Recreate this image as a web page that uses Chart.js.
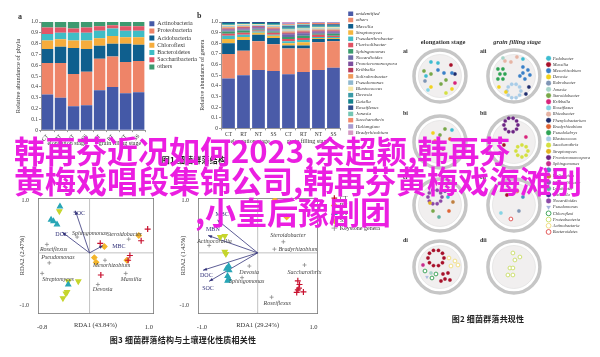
<!DOCTYPE html>
<html><head><meta charset="utf-8">
<script src="https://cdn.jsdelivr.net/npm/chart.js@4.4.1/dist/chart.umd.min.js"></script>
<style>
html,body{margin:0;padding:0;background:#fff;}
body{width:600px;height:357px;position:relative;overflow:hidden;}
canvas{position:absolute;}
.t{position:absolute;white-space:nowrap;line-height:1;color:#333;font-family:"Liberation Serif",serif;}
.ctr{transform:translateX(-50%);}
.cap{position:absolute;white-space:nowrap;line-height:1;font-family:"Noto Sans CJK SC",sans-serif;font-weight:700;font-size:8px;color:#222;transform:translateX(-50%);letter-spacing:0.2px;}
.big{position:absolute;white-space:nowrap;font-family:"Noto Sans CJK SC",sans-serif;font-weight:700;font-size:31px;line-height:31px;color:#eb1ee1;z-index:10;}
</style></head><body>
<canvas id="cA" width="207" height="155" style="left:0;top:0"></canvas>
<canvas id="cB" width="212" height="155" style="left:195px;top:0"></canvas>
<canvas id="cN" width="205" height="262" style="left:395px;top:45px"></canvas>
<canvas id="cL" width="165" height="155" style="left:0;top:180px"></canvas>
<canvas id="cM" width="215" height="155" style="left:175px;top:180px"></canvas>

<div class="t" style="left:18px;top:13px;font-size:8px;font-weight:700">a</div>
<div class="t" style="left:197px;top:12px;font-size:8px;font-weight:700">b</div>
<div class="t ctr" style="left:67px;top:140px;font-size:6px">elongation stage</div>
<div class="t ctr" style="left:120px;top:140px;font-size:6px">grain filling stage</div>
<div class="t ctr" style="left:250px;top:138px;font-size:6px">elongation stage</div>
<div class="t ctr" style="left:308px;top:138px;font-size:6px">grain filling stage</div>
<div class="cap" style="left:194px;top:156px">图1 细菌群落结构</div>

<div class="t ctr" style="left:443px;top:39px;font-size:6.5px;font-weight:700">elongation stage</div>
<div class="t ctr" style="left:517px;top:39px;font-size:6.5px;font-weight:700;font-style:italic">grain filling stage</div>
<div class="t" style="left:403px;top:48px;font-size:6px;font-weight:700">ai</div>
<div class="t" style="left:480px;top:48px;font-size:6px;font-weight:700">aii</div>
<div class="t" style="left:403px;top:110px;font-size:6px;font-weight:700">bi</div>
<div class="t" style="left:480px;top:110px;font-size:6px;font-weight:700">bii</div>
<div class="t" style="left:403px;top:174px;font-size:6px;font-weight:700">ci</div>
<div class="t" style="left:480px;top:174px;font-size:6px;font-weight:700">cii</div>
<div class="t" style="left:403px;top:237px;font-size:6px;font-weight:700">di</div>
<div class="t" style="left:480px;top:237px;font-size:6px;font-weight:700">dii</div>
<div class="cap" style="left:488px;top:315px">图2 细菌群落共现性</div>
<div class="cap" style="left:183px;top:336px">图3 细菌群落结构与土壤理化性质相关性</div>

<div class="big" style="left:14px;top:134px">韩再芬近况如何2023,余超颖,韩再芬</div>
<div class="big" style="left:14px;top:164px">黄梅戏唱段集锦公司,韩再芬黄梅戏海滩别</div>
<div class="big" style="left:195px;top:195px">,小皇后豫剧团</div>

<script>
// ---------------- DATA ----------------
const stageLabels = ['CT','RT','NT','SS','CT','RT','NT','SS'];

const phylumNames = ['Actinobacteria','Proteobacteria','Acidobacteria','Chloroflexi','Bacteroidetes','Saccharibacteria','others'];
const actinobacteria   = [0.33,0.30,0.22,0.23,0.37,0.40,0.34,0.35];
const proteobacteria   = [0.29,0.32,0.30,0.31,0.29,0.28,0.29,0.29];
const acidobacteria    = [0.13,0.15,0.24,0.21,0.12,0.12,0.17,0.15];
const chloroflexi      = [0.08,0.07,0.07,0.08,0.07,0.07,0.06,0.07];
const bacteroidetes    = [0.06,0.06,0.07,0.07,0.07,0.07,0.06,0.06];
const saccharibacteria = [0.06,0.05,0.04,0.05,0.04,0.03,0.04,0.04];
const otherPhyla       = [0.05,0.05,0.06,0.05,0.04,0.03,0.04,0.04];

const genusNames = ['unidentified','others','Massilia','Streptomyces','Pseudarthrobacter','Flavisolibacter','Sphingomonas','Nocardioides','Promicromonospora','Kribbella','Solirubrobacter','Pseudomonas','Blastococcus','Devosia','Gaiella','Roseiflexus','Jonesia','Saccharothrix','Haliangium','Bradyrhizobium'];
const gUnidentified      = [0.47,0.50,0.55,0.54,0.51,0.53,0.55,0.57];
const gOthers            = [0.23,0.23,0.27,0.25,0.24,0.22,0.26,0.25];
const gMassilia          = [0.10,0.10,0.06,0.06,0.03,0.03,0.03,0.02];
const gStreptomyces      = [0.04,0.03,0.02,0.02,0.02,0.03,0.01,0.01];
const gPseudarthrobacter = [0.03,0.02,0.01,0.01,0.02,0.02,0.01,0.01];
const gFlavisolibacter   = [0.02,0.02,0.01,0.02,0.02,0.02,0.02,0.01];
const gSphingomonas      = [0.02,0.02,0.01,0.01,0.02,0.02,0.01,0.02];
const gNocardioides      = [0.01,0.01,0.01,0.01,0.02,0.02,0.01,0.01];
const gPromicromonospora = [0.01,0.01,0.01,0.01,0.01,0.01,0.01,0.01];
const gKribbella         = [0.01,0.01,0.01,0.01,0.01,0.01,0.01,0.01];
const gSolirubrobacter   = [0.01,0.01,0.00,0.01,0.01,0.01,0.01,0.01];
const gPseudomonas       = [0.01,0.01,0.01,0.01,0.01,0.01,0.01,0.01];
const gBlastococcus      = [0.01,0.01,0.01,0.01,0.01,0.01,0.01,0.01];
const gDevosia           = [0.01,0.01,0.00,0.01,0.01,0.01,0.01,0.01];
const gGaiella           = [0.01,0.00,0.01,0.01,0.01,0.01,0.01,0.01];
const gRoseiflexus       = [0.01,0.01,0.01,0.01,0.01,0.01,0.01,0.01];
const gJonesia           = [0.00,0.00,0.00,0.00,0.01,0.01,0.00,0.00];
const gSaccharothrix     = [0.00,0.00,0.00,0.00,0.01,0.01,0.01,0.01];
const gHaliangium        = [0.00,0.00,0.00,0.00,0.01,0.01,0.01,0.01];
const gBradyrhizobium    = [0.00,0.00,0.00,0.00,0.01,0.00,0.00,0.00];

// co-occurrence network layout (node positions in layout units)
const netRings = [[45,31],[119,31],[45,97],[119,97],[45,160],[119,160],[45,222],[119,222]];
const nPedobacter = [[36,17],[43,18],[31,31],[128,14],[57,85],[53,152]];
const nMassilia = [[56,20],[106,95],[109,100],[112,150],[49,213],[47.5,217.7],[43.5,220.6],[38.5,220.6],[34.5,217.7],[33,213],[34.5,208.3],[38.5,205.4],[43.5,205.4],[47.5,208.3],[48,229],[53,228],[50,234],[55,235],[46,236]];
const nMesorhizobium = [[43,25],[49,28],[57,28],[128,22],[133,25],[128,28],[135,30],[130,34],[125,31]];
const nDevosia = [[57,44],[36,42],[104,42],[111,47],[38,88]];
const nRubrobacter = [[30,36],[124,166]];
const nJonesia = [[108,13],[36,228]];
const nSteroidobacter = [[29,26],[36,29],[46,39],[51,35],[50,84],[45,90],[38,166]];
const nKribbella = [[60,38],[131,92]];
const nRoseiflexus = [[33,45],[106,168]];
const nRhizobacter = [[116,17],[122,12],[110,16]];
const nPhenylobacterium = [[134,42],[131,49],[60,29]];
const nBradyrhizobium = [[55,94],[54,166]];
const nPseudolabrys = [[103,24],[108,24],[105,29],[110,29],[103,34],[108,34]];
const nBlastococcus = [[126,46],[124.7,50.1],[121.2,52.7],[116.8,52.7],[113.3,50.1],[112,46],[113.3,41.9],[116.8,39.3],[121.2,39.3],[124.7,41.9]];
const nSaccharothrix = [[133,106],[131.2,110.2],[127,112],[122.8,110.2],[121,106],[122.8,101.8],[127,100],[131.2,101.8],[51,48]];
const nStreptomyces = [[40,96],[35,158]];
const nPromicromonospora = [[123,80],[121.7,84.1],[118.2,86.7],[113.8,86.7],[110.3,84.1],[109,80],[110.3,75.9],[113.8,73.3],[118.2,73.3],[121.7,75.9]];
const nSphingomonas = [[48,104],[28,220]];
const nGaiella = [[128,152]];
const nHaliangium = [[58,157]];
const nFlavisolibacter = [[105,108]];
const nLysobacter = [[44,172]];
const nIdeonella = [[50,146]];
const nNocardioides = [[47,152],[45.7,156.1],[42.2,158.7],[37.8,158.7],[34.3,156.1],[33,152],[34.3,147.9],[37.8,145.3],[42.2,145.3],[45.7,147.9]];
const nPseudomonas = [[34,100],[32,232]];
const nChloroflexi = [[30,226],[37,233],[41,229]];
const nProteobacteria = [[118,208],[125,212],[120,215],[115,223],[118,223],[113,230],[118,230]];
const nActinobacteria = [[54,213],[60,216],[56,221],[63,220]];
const nBacteroidetes = [[116,174],[122,146]];
const netNames = ['Pedobacter','Massilia','Mesorhizobium','Devosia','Rubrobacter','Jonesia','Steroidobacter','Kribbella','Roseiflexus','Rhizobacter','Phenylobacterium','Bradyrhizobium','Pseudolabrys','Blastococcus','Saccharothrix','Streptomyces','Promicromonospora','Sphingomonas','Gaiella','Haliangium','Flavisolibacter','Lysobacter','Ideonella','Nocardioides','Pseudomonas','Chloroflexi','Proteobacteria','Actinobacteria','Bacteroidetes'];
const netNodes = [nPedobacter,nMassilia,nMesorhizobium,nDevosia,nRubrobacter,nJonesia,nSteroidobacter,nKribbella,nRoseiflexus,nRhizobacter,nPhenylobacterium,nBradyrhizobium,nPseudolabrys,nBlastococcus,nSaccharothrix,nStreptomyces,nPromicromonospora,nSphingomonas,nGaiella,nHaliangium,nFlavisolibacter,nLysobacter,nIdeonella,nNocardioides,nPseudomonas,nChloroflexi,nProteobacteria,nActinobacteria,nBacteroidetes];

// RDA
const rdaTicksXL = [-0.8, 1.0];
const rdaTicksY = [-1.0, 1.0];
const rdaTicksXM = [-1.0, 1.0];
const rdaL_CT = [[0.18,0.18],[0.68,-0.05],[0.65,-0.14],[0.19,-0.42],[0.87,0.23],[0.98,0.45]];
const rdaL_RT = [[0.83,0.33],[0.25,0.12],[0.08,-0.09],[0.11,-0.18],[0.63,-0.14]];
const rdaL_NT = [[-0.36,-0.60],[-0.50,0.88],[-0.65,0.63],[-0.61,0.60],[-0.55,0.54]];
const rdaL_SS = [[-0.36,-0.54],[-0.19,-0.54],[-0.38,-0.74],[-0.40,-0.77],[-0.45,-0.86],[-0.51,0.79]];
const rdaL_genera = ['Sphingomonas','Steroidobacter','Roseiflexus','Pseudomonas','Mesorhizobium','Streptomyces','Massilia','Devosia'];
const rdaL_generaXY = [[-0.21,0.30],[0.66,0.26],[-0.72,0.16],[-0.68,-0.19],[0.26,-0.14],[-0.80,-0.39],[0.61,-0.39],[0.14,-0.60]];
const rdaL_env = ['SOC','DOC','MBC'];
const rdaL_envXY = [[-0.24,0.80],[-0.46,0.39],[0.23,0.14]];
const rdaM_CT = [[0.72,-0.53],[0.75,-0.60],[0.72,-0.70],[0.70,-0.75],[0.82,-0.74],[0.74,-0.67]];
const rdaM_RT = [[0.31,1.0],[0.52,0.68]];
const rdaM_NT = [[-0.52,-0.25],[-0.51,-0.33],[-0.54,-0.44],[-0.54,-0.53],[-0.52,-0.49],[-0.56,-0.30]];
const rdaM_SS = [[-0.59,0.02],[-0.57,-0.02],[-0.67,0.30],[-0.59,0.32]];
const rdaM_genera = ['Actinocorallia','Steroidobacter','Bradyrhizobium','Devosia','Sphingomonas','Saccharothrix','Roseiflexus'];
const rdaM_generaXY = [[-0.87,0.14],[0.46,0.21],[0.30,0.07],[-0.15,-0.25],[-0.28,-0.47],[0.84,-0.23],[0.25,-0.84]];
const rdaM_env = ['DOC','SOC','MBN','MBC'];
const rdaM_envXY = [[-0.98,-0.33],[-0.87,-0.54],[-0.89,0.33],[-0.72,0.62]];

// ---------------- STYLE ----------------
Chart.defaults.font.family = '"Liberation Serif", serif';
Chart.defaults.color = '#333';
Chart.defaults.animation = false;
const phylumColors = ['#4459a7','#ee8468','#0f5f8e','#f6ac3c','#3fbdc6','#e35567','#3d9a70'];
const genusColors = ['#4a5ba8','#ef8a6c','#0d5d8c','#f4b63f','#42bcc6','#e05263','#3a9c6e','#6b6aa8','#7d4f9e','#b83a5c','#f09a5a','#8fb8cf','#f6e7a6','#3a9aa6','#12828c','#2e4c8c','#74c6b4','#f3896a','#a89ad0','#d59ac4'];
const netColors = ['#3cbcd0','#a8102a','#3a80c8','#f2d21e','#7f95b5','#a6d4c8','#78a848','#d8247c','#84d4e4','#e6b4a4','#1e2c6c','#e06434','#2ea454','#a8cce8','#d4e040','#e2b41e','#6c2484','#c82c8c','#4c8cc0','#c08040','#8c5cb4','#60b0a0','#4c2c9c','#8c48a8','#a4b4dc','#2e9c4c','#c8dc64','#f0dc78','#e04848'];
const netHollow = ['Chloroflexi','Proteobacteria','Actinobacteria','Bacteroidetes'];
const sampleStyles = {
  CT:{color:'#c8102e', style:'cross', rot:0, r:3},
  RT:{color:'#f3b52c', style:'rectRot', rot:0, r:2.6},
  NT:{color:'#28a6b6', style:'triangle', rot:0, r:2.8},
  SS:{color:'#c6d52c', style:'triangle', rot:180, r:2.8}
};
const envColor = '#33337a';
const labelOffsL = [[-5,-4],[-22,-5],[-7,5],[-8,-5],[-12,5],[0,6],[-5,6],[-5,5]];
const envOffsL = [[-2,3],[-7,2],[9,1]];
const labelOffsM = [[-12,-4],[-13,-6],[4,0],[-10,6],[-13,4],[-17,7],[-8,6]];
const envOffsM = [[-3,5],[-7,7],[-2,-6],[-2,-6]];

const toXY = a => a.map(p => ({x:p[0], y:p[1]}));

const annotatePlugin = {
  id:'annotate',
  afterDatasetsDraw(chart){
    const ctx = chart.ctx;
    chart.data.datasets.forEach((ds,i) => {
      const pts = chart.getDatasetMeta(i).data;
      if (ds.arrowHead && pts.length > 1){
        const a = pts[pts.length-2], b = pts[pts.length-1];
        const ang = Math.atan2(b.y-a.y, b.x-a.x);
        ctx.save(); ctx.translate(b.x,b.y); ctx.rotate(ang);
        ctx.beginPath(); ctx.moveTo(0,0); ctx.lineTo(-4,-1.5); ctx.lineTo(-4,1.5); ctx.closePath();
        ctx.fillStyle = ds.borderColor; ctx.fill(); ctx.restore();
      }
      if (ds.pointLabels){
        ctx.save();
        ctx.font = ds.pointLabelFont; ctx.fillStyle = ds.pointLabelColor;
        ctx.textBaseline = 'middle'; ctx.textAlign = 'left';
        pts.forEach((p,j) => { const t = ds.pointLabels[j]; if(!t) return; const o = ds.pointLabelOffsets[j]; ctx.fillText(t, p.x+o[0], p.y+o[1]); });
        ctx.restore();
      }
    });
  }
};

const spacer = (pos, size, vertical) => ({
  type:'linear', position:pos, display:true, grid:{display:false}, ticks:{display:false}, border:{display:false},
  afterFit: s => { if (vertical) s.width = size; else s.height = size; }
});

// ---------------- CHART A ----------------
const phylaData = [actinobacteria,proteobacteria,acidobacteria,chloroflexi,bacteroidetes,saccharibacteria,otherPhyla];
new Chart(document.getElementById('cA'), {
  type:'bar',
  data:{labels:stageLabels, datasets: phylumNames.map((n,i) => ({label:n, data:phylaData[i], xAxisID:'x', yAxisID:'y', backgroundColor:phylumColors[i], borderWidth:0, categoryPercentage:0.88, barPercentage:1}))},
  options:{
    responsive:false, devicePixelRatio:1,
    layout:{padding:{top:19.5, left:14, right:0, bottom:0}},
    plugins:{tooltip:{enabled:false}, legend:{position:'right', align:'start', maxWidth:70, labels:{boxWidth:5, boxHeight:5, padding:1.2, font:{size:6}}}},
    scales:{
      x:{stacked:true, border:{color:'#999'}, grid:{drawOnChartArea:false, tickLength:2, color:'#999'}, ticks:{font:{size:5.5}, padding:1}},
      xs:spacer('bottom', 11, false),
      xt:spacer('top', 2.5, false),
      ys:spacer('right', 3, true),
      y:{stacked:true, min:0, max:1, border:{color:'#999'}, grid:{drawOnChartArea:false, tickLength:2, color:'#999'},
         ticks:{stepSize:0.1, font:{size:5.5}, padding:1}, afterFit: s => { s.width = 27; },
         title:{display:true, text:'Relative abundance of phyla', font:{size:6.5}, padding:0}}
    }
  }
});

// ---------------- CHART B ----------------
const genusData = [gUnidentified,gOthers,gMassilia,gStreptomyces,gPseudarthrobacter,gFlavisolibacter,gSphingomonas,gNocardioides,gPromicromonospora,gKribbella,gSolirubrobacter,gPseudomonas,gBlastococcus,gDevosia,gGaiella,gRoseiflexus,gJonesia,gSaccharothrix,gHaliangium,gBradyrhizobium];
new Chart(document.getElementById('cB'), {
  type:'bar',
  data:{labels:stageLabels, datasets: genusNames.map((n,i) => ({label:n, data:genusData[i], xAxisID:'x', yAxisID:'y', backgroundColor:genusColors[i], borderWidth:0, categoryPercentage:0.85, barPercentage:1}))},
  options:{
    responsive:false, devicePixelRatio:1,
    layout:{padding:{top:10, left:4, right:0, bottom:0}},
    plugins:{tooltip:{enabled:false}, legend:{position:'right', align:'start', maxWidth:70, labels:{boxWidth:5, boxHeight:4.5, padding:1.26, font:{size:5, style:'italic'}}}},
    scales:{
      x:{stacked:true, border:{color:'#999'}, grid:{drawOnChartArea:false, tickLength:2, color:'#999'}, ticks:{font:{size:5.5}, padding:1}},
      xs:spacer('bottom', 16, false),
      xt:spacer('top', 12, false),
      ys:spacer('right', 6, true),
      y:{stacked:true, min:0, max:1, border:{color:'#999'}, grid:{drawOnChartArea:false, tickLength:2, color:'#999'},
         ticks:{stepSize:0.1, font:{size:5.5}, padding:1}, afterFit: s => { s.width = 22; },
         title:{display:true, text:'Relative abundance of genera', font:{size:6}, padding:0}}
    }
  }
});

// ---------------- NETWORK ----------------
const netDatasets = [
  {label:'ring', noLegend:true, data:toXY(netRings), pointRadius:26, pointBorderWidth:3.5, pointBorderColor:'#c6c6c6', pointBackgroundColor:'rgba(255,255,255,0)', order:10, clip:false},
  {label:'disc', noLegend:true, data:toXY(netRings), pointRadius:21.5, pointBorderWidth:0.6, pointBorderColor:'#dedede', pointBackgroundColor:'#f1efef', order:9, clip:false}
];
netNames.forEach((n,i) => {
  const hollow = netHollow.includes(n);
  netDatasets.push({
    label:n, data:toXY(netNodes[i]), order:0, clip:false,
    pointStyle: n === 'Pseudomonas' ? 'triangle' : 'circle', rotation: n === 'Pseudomonas' ? 180 : 0,
    pointRadius: hollow ? 1.9 : 1.7, pointBorderWidth: hollow ? 0.9 : 0.3,
    backgroundColor: hollow ? '#ffffff' : netColors[i], borderColor: netColors[i]
  });
});
new Chart(document.getElementById('cN'), {
  type:'scatter',
  data:{datasets:netDatasets},
  options:{
    responsive:false, devicePixelRatio:1,
    layout:{padding:0, autoPadding:false},
    plugins:{tooltip:{enabled:false},
      legend:{position:'right', align:'start', maxWidth:80,
        title:{display:true, text:' ', font:{size:5}, padding:{top:3.4, bottom:0}},
        labels:{usePointStyle:true, boxWidth:4, boxHeight:3.4, padding:1.7, font:{size:4.5, style:'italic'},
          filter:(item, data) => !data.datasets[item.datasetIndex].noLegend}}},
    scales:{
      x:{type:'linear', display:false, afterDataLimits: s => { s.min = 0; s.max = s.width || 152; }},
      y:{type:'linear', display:false, reverse:true, min:0, max:262}
    }
  }
});

// ---------------- RDA helpers ----------------
function sampleSets(groups){
  return Object.keys(groups).map(k => ({
    label:k, data:toXY(groups[k]), xAxisID:'x', yAxisID:'y', pointStyle:sampleStyles[k].style, rotation:sampleStyles[k].rot,
    pointRadius:sampleStyles[k].r, borderWidth:1.2, borderColor:sampleStyles[k].color, backgroundColor:sampleStyles[k].color, order:1
  }));
}
function crossLines(xmin,xmax,ymin,ymax){
  return [
    {type:'line', noLegend:true, xAxisID:'x', yAxisID:'y', data:[{x:xmin,y:0},{x:xmax,y:0}], borderColor:'#a8a8a8', borderWidth:0.7, pointRadius:0, order:20},
    {type:'line', noLegend:true, xAxisID:'x', yAxisID:'y', data:[{x:0,y:ymin},{x:0,y:ymax}], borderColor:'#a8a8a8', borderWidth:0.7, pointRadius:0, order:20}
  ];
}
function envArrows(names, xy, offs){
  return names.map((n,i) => ({
    type:'line', noLegend:true, xAxisID:'x', yAxisID:'y', data:[{x:0,y:0},{x:xy[i][0],y:xy[i][1]}], borderColor:envColor, borderWidth:0.8, pointRadius:0,
    arrowHead:true, pointLabels:['', n], pointLabelOffsets:[[0,0], offs[i]], pointLabelFont:'6px "Liberation Serif"', pointLabelColor:envColor, order:5
  }));
}
function generaSet(names, xy, offs){
  return {label:'Keystone genera', data:toXY(xy), xAxisID:'x', yAxisID:'y', pointStyle:'cross', pointRadius:2, borderWidth:0.8, borderColor:'#8a8a8a', backgroundColor:'#8a8a8a',
    pointLabels:names, pointLabelOffsets:offs, pointLabelFont:'italic 6px "Liberation Serif"', pointLabelColor:'#444', order:3};
}
function rdaScales(xr, yr, xt, yt, xTitle, yTitle, yWidth, rightW){
  const axisTicks = arr => s => { s.ticks = arr.map(v => ({value:v})); };
  return {
    x:{type:'linear', min:xr[0], max:xr[1], afterBuildTicks:axisTicks(xt), grid:{display:false}, border:{color:'#777', width:0.8},
       ticks:{font:{size:6.5}, padding:2, callback:v => Number(v).toFixed(1)}, afterFit: s => { s.height = 16; },
       title:{display:true, text:xTitle, font:{size:6.5}, padding:{top:0,bottom:0}}},
    x2:{type:'linear', position:'top', min:xr[0], max:xr[1], grid:{display:false}, ticks:{display:false}, border:{color:'#777', width:0.8}},
    y:{type:'linear', min:yr[0], max:yr[1], afterBuildTicks:axisTicks(yt), grid:{display:false}, border:{color:'#777', width:0.8},
       ticks:{font:{size:6}, padding:1, callback:v => Number(v).toFixed(1)}, afterFit: s => { s.width = yWidth; },
       title:{display:true, text:yTitle, font:{size:6.5}, padding:{top:0,bottom:0}}},
    y2:{type:'linear', position:'right', min:yr[0], max:yr[1], grid:{display:false}, ticks:{display:false}, border:{color:'#777', width:0.8}, afterFit: s => { s.width = rightW; }}
  };
}

// ---------------- RDA LEFT ----------------
const xrL = [-0.87, 1.07], yrL = [-1.14, 1.04];
new Chart(document.getElementById('cL'), {
  type:'scatter',
  data:{datasets:[
    ...envArrows(rdaL_env, rdaL_envXY, envOffsL),
    generaSet(rdaL_genera, rdaL_generaXY, labelOffsL),
    ...sampleSets({CT:rdaL_CT, RT:rdaL_RT, NT:rdaL_NT, SS:rdaL_SS}),
    ...crossLines(xrL[0], xrL[1], yrL[0], yrL[1])
  ]},
  options:{
    responsive:false, devicePixelRatio:1,
    layout:{padding:{top:10, left:18, right:0, bottom:6}, autoPadding:false},
    plugins:{tooltip:{enabled:false}, legend:{display:false}},
    scales: rdaScales(xrL, yrL, rdaTicksXL, rdaTicksY, 'RDA1 (43.84%)', 'RDA2 (2.47%)', 20, 12)
  },
  plugins:[annotatePlugin]
});

// ---------------- RDA MIDDLE ----------------
const xrM = [-1.07, 1.07], yrM = [-1.14, 1.04];
new Chart(document.getElementById('cM'), {
  type:'scatter',
  data:{datasets:[
    ...envArrows(rdaM_env, rdaM_envXY, envOffsM),
    ...sampleSets({CT:rdaM_CT, RT:rdaM_RT, NT:rdaM_NT, SS:rdaM_SS}),
    generaSet(rdaM_genera, rdaM_generaXY, labelOffsM),
    ...crossLines(xrM[0], xrM[1], yrM[0], yrM[1])
  ]},
  options:{
    responsive:false, devicePixelRatio:1,
    layout:{padding:{top:10, left:4, right:0, bottom:6}, autoPadding:false},
    plugins:{tooltip:{enabled:false},
      legend:{position:'right', align:'start', maxWidth:80,
        title:{display:true, text:' ', font:{size:3}, padding:{top:0, bottom:0}},
        labels:{usePointStyle:true, boxWidth:5, boxHeight:4, padding:1.5, font:{size:6},
          filter:(item, data) => !data.datasets[item.datasetIndex].noLegend}}},
    scales: rdaScales(xrM, yrM, rdaTicksXM, rdaTicksY, 'RDA1 (29.24%)', 'RDA2 (1.43%)', 19, 13)
  },
  plugins:[annotatePlugin]
});
</script>
</body></html>
